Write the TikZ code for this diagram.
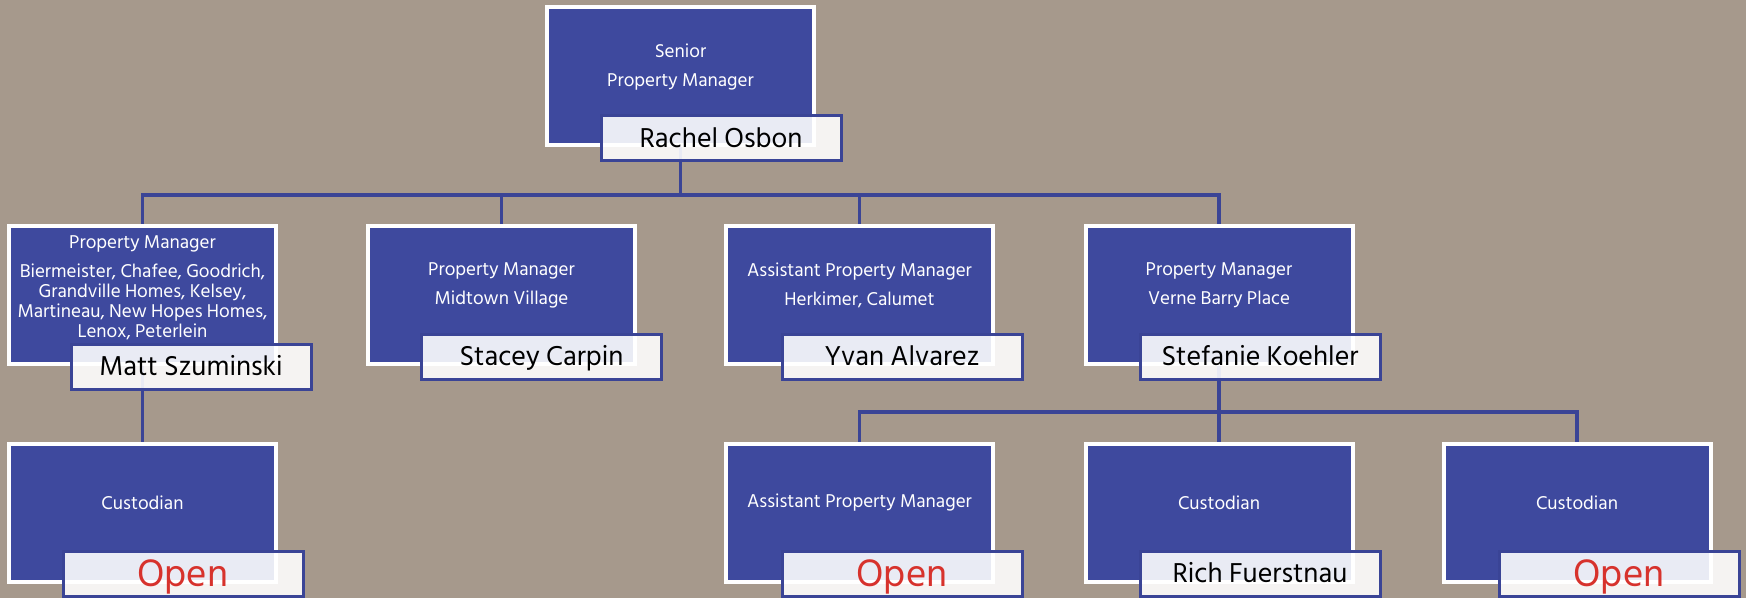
\documentclass[tikz,border=0pt]{standalone}
\usepackage{fontspec}
\setmainfont{Hind Siliguri}
\usetikzlibrary{backgrounds}
\definecolor{bgcol}{RGB}{166,153,140}
\definecolor{boxblue}{RGB}{62,73,158}
\definecolor{lineblue}{RGB}{58,68,150}
\definecolor{openred}{RGB}{215,50,44}
\begin{document}
\begin{tikzpicture}[x=1pt,y=-1pt,
  rolebox/.style={rectangle, fill=boxblue, draw=white, line width=4pt,
    minimum width=267pt, minimum height=138pt, inner sep=0pt},
  namebox/.style={rectangle, fill=white, fill opacity=0.89, text opacity=1,
    draw=lineblue, line width=3pt, minimum width=240pt, minimum height=45pt,
    inner sep=0pt, text depth=0pt, font=\fontsize{28}{32}\selectfont},
  roletext/.style={text=white, align=center, font=\fontsize{19}{20}\selectfont},
  opentext/.style={namebox, text=openred, font=\fontsize{39}{42}\selectfont},
  conn/.style={draw=lineblue, line width=3.5pt}]
\useasboundingbox (0,0) rectangle (1746,598);
% role boxes
\node[rolebox] (b0) at (680.5,76) {};
\node[rolebox] (b1) at (142.5,295) {};
\node[rolebox] (b2) at (501.5,295) {};
\node[rolebox] (b3) at (859.5,295) {};
\node[rolebox] (b4) at (1219,295) {};
\node[rolebox] (c1) at (142.5,513) {};
\node[rolebox] (c2) at (859.5,513) {};
\node[rolebox] (c3) at (1219,513) {};
\node[rolebox] (c4) at (1577,513) {};
% role texts
\node[roletext] (t0) at (680.5,67.5) {Senior\\[9pt]Property Manager};
\node[roletext] (t1) at (142.5,287.5) {Property Manager\\[9pt]Biermeister, Chafee, Goodrich,\\Grandville Homes, Kelsey,\\Martineau, New Hopes Homes,\\Lenox, Peterlein};
\node[roletext] (t2) at (501.5,285.5) {Property Manager\\[9pt]Midtown Village};
\node[roletext] (t3) at (859.5,285.5) {Assistant Property Manager\\[9pt]Herkimer, Calumet};
\node[roletext] (t4) at (1219,285.5) {Property Manager\\[9pt]Verne Barry Place};
\node[roletext] (u1) at (142.5,503) {Custodian};
\node[roletext] (u2) at (859.5,503) {Assistant Property Manager};
\node[roletext] (u3) at (1219,503) {Custodian};
\node[roletext] (u4) at (1577,503) {Custodian};
% name boxes
\node[namebox] (n0) at (721,138) {\raisebox{1.5pt}{Rachel Osbon}};
\node[namebox] (n1) at (191,366.5) {\raisebox{1.5pt}{Matt Szuminski}};
\node[namebox] (n2) at (541.5,356.5) {\raisebox{1.5pt}{Stacey Carpin}};
\node[namebox] (n3) at (902,356.5) {\raisebox{1.5pt}{Yvan Alvarez}};
\node[namebox] (n4) at (1260,356.5) {\raisebox{1.5pt}{Stefanie Koehler}};
\node[opentext] (m1) at (183,573.5) {\raisebox{1pt}{Open}};
\node[opentext] (m2) at (902,573.5) {\raisebox{1pt}{Open}};
\node[namebox] (m3) at (1260,573.5) {\raisebox{1.5pt}{Rich Fuerstnau}};
\node[opentext] (m4) at (1619,573.5) {\raisebox{1pt}{Open}};
\begin{pgfonlayer}{background}
\fill[bgcol] (0,0) rectangle (1746,598);
\draw[conn] (b0.south) -- ++(0,48) -| (b1.north);
\draw[conn] (b0.south) -- ++(0,48) -| (b2.north);
\draw[conn] (b0.south) -- ++(0,48) -| (b3.north);
\draw[conn] (b0.south) -- ++(0,48) -| (b4.north);
\draw[conn] (b1.south) -- (c1.north);
\draw[conn] (b4.south) -- ++(0,46) -| (c2.north);
\draw[conn] (b4.south) -- ++(0,46) -| (c3.north);
\draw[conn] (b4.south) -- ++(0,46) -| (c4.north);
\end{pgfonlayer}
\end{tikzpicture}
\end{document}
